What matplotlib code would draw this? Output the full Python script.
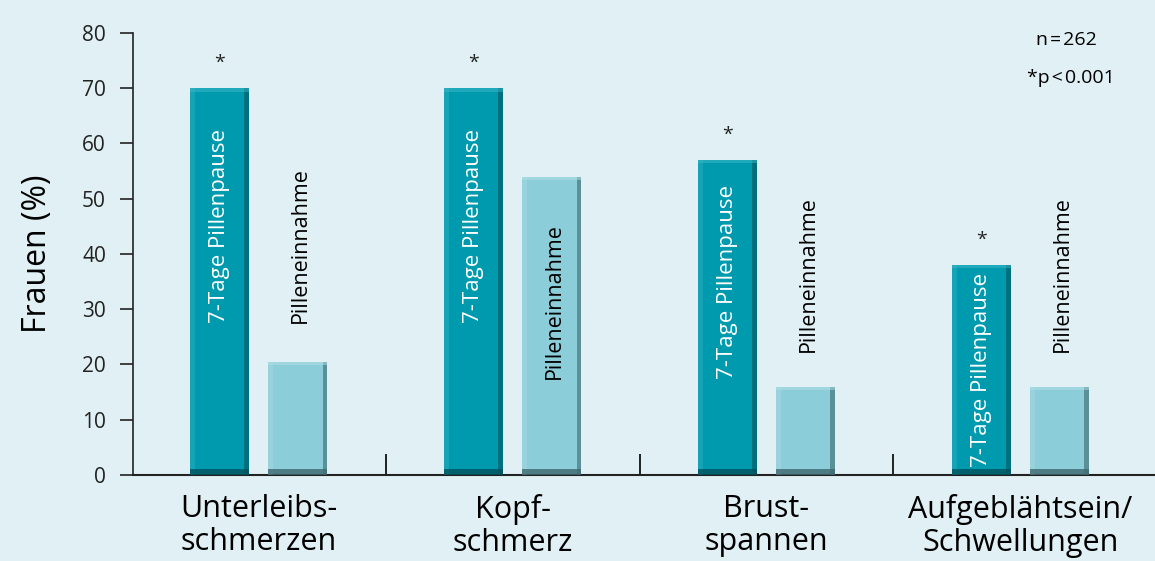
import numpy as np
import matplotlib.pyplot as plt

# data
categories = ["Unterleibs-\nschmerzen", "Kopf-\nschmerz", "Brust-\nspannen", "Aufgeblähtsein/\nSchwellungen"]
pause_values = [70, 70, 57, 38]        # 7-Tage Pillenpause
intake_values = [20.5, 54, 16, 16]     # Pilleneinnahme
yticks = [0, 10, 20, 30, 40, 50, 60, 70, 80]
pause_label_y = [45, 45, 35, 19]       # centre of the rotated label inside the dark bar
intake_label_y = [27.5, 17.3, 22.3, 22.3]  # bottom of the rotated label

BG = "#e1f0f4"
DARK = "#009aae"
LIGHT = "#8bcdd8"

plt.rcParams['font.family'] = ['Open Sans', 'DejaVu Sans']

fig = plt.figure(figsize=(11.55, 5.61), dpi=100, facecolor=BG)
ax = fig.add_axes([0.1152, 0.1533, 0.8848, 0.788], facecolor=BG)

x = np.arange(len(categories))
off = 0.154
w = 0.2326


def bevel_bars(xs, vals, color, edge_dark, edge_light):
    ax.bar(xs, vals, width=w, color=color, zorder=2)
    # left highlight, right shadow, bottom shadow strips
    s = w * 0.08
    ax.bar(xs - w / 2 + s / 2, vals, width=s, color=edge_light, alpha=0.35, zorder=3)
    ax.bar(xs + w / 2 - s / 2, vals, width=s, color=edge_dark, alpha=0.6, zorder=3)
    ax.bar(xs, [1.0] * len(vals), width=w, color=edge_dark, alpha=0.8, zorder=3)
    tops = np.array(vals)
    ax.bar(xs, [0.6] * len(vals), bottom=tops - 0.6, width=w, color=edge_light, alpha=0.5, zorder=3)


bevel_bars(x - off, pause_values, DARK, "#00535e", "#3fb8c6")
bevel_bars(x + off, intake_values, LIGHT, "#3e6870", "#b3e0e7")

for i in range(len(categories)):
    ax.text(x[i] - off, pause_label_y[i], "7-Tage Pillenpause", rotation=90,
            ha='center', va='center', color='white', fontsize=16, zorder=4)
    ax.text(x[i] + off + 0.01, intake_label_y[i], "Pilleneinnahme", rotation=90,
            ha='center', va='bottom', color='black', fontsize=15.5, zorder=4)
    ax.text(x[i] - off, pause_values[i] + 4.5, "*", ha='center', va='center',
            fontsize=14, color='#222222')

ax.text(3.18, 78.7, "n\u200a=\u200a262", ha='center', va='center', fontsize=14)
ax.text(3.2, 71.8, "*p\u200a<\u200a0.001", ha='center', va='center', fontsize=14)

ax.set_xlim(-0.495, 3.53)
ax.set_ylim(0, 80)
ax.set_yticks(yticks)
ax.tick_params(axis='y', direction='out', length=9.5, width=1.2, labelsize=15,
               pad=10, colors='#222222')
ax.set_xticks(x)
ax.set_xticklabels(categories, fontsize=22, linespacing=1.1)
ax.tick_params(axis='x', length=0, pad=14)
ax.set_xticks([0.5, 1.5, 2.5], minor=True)
ax.tick_params(axis='x', which='minor', direction='in', length=15, width=1.2)

for side in ['top', 'right']:
    ax.spines[side].set_visible(False)
ax.spines['left'].set_linewidth(1.2)
ax.spines['bottom'].set_linewidth(1.5)
ax.spines['left'].set_color('#222222')
ax.spines['bottom'].set_color('#222222')

ax.set_ylabel("Frauen (%)", fontsize=23, labelpad=20)

fig.savefig("out.png", dpi=100, facecolor=BG)
